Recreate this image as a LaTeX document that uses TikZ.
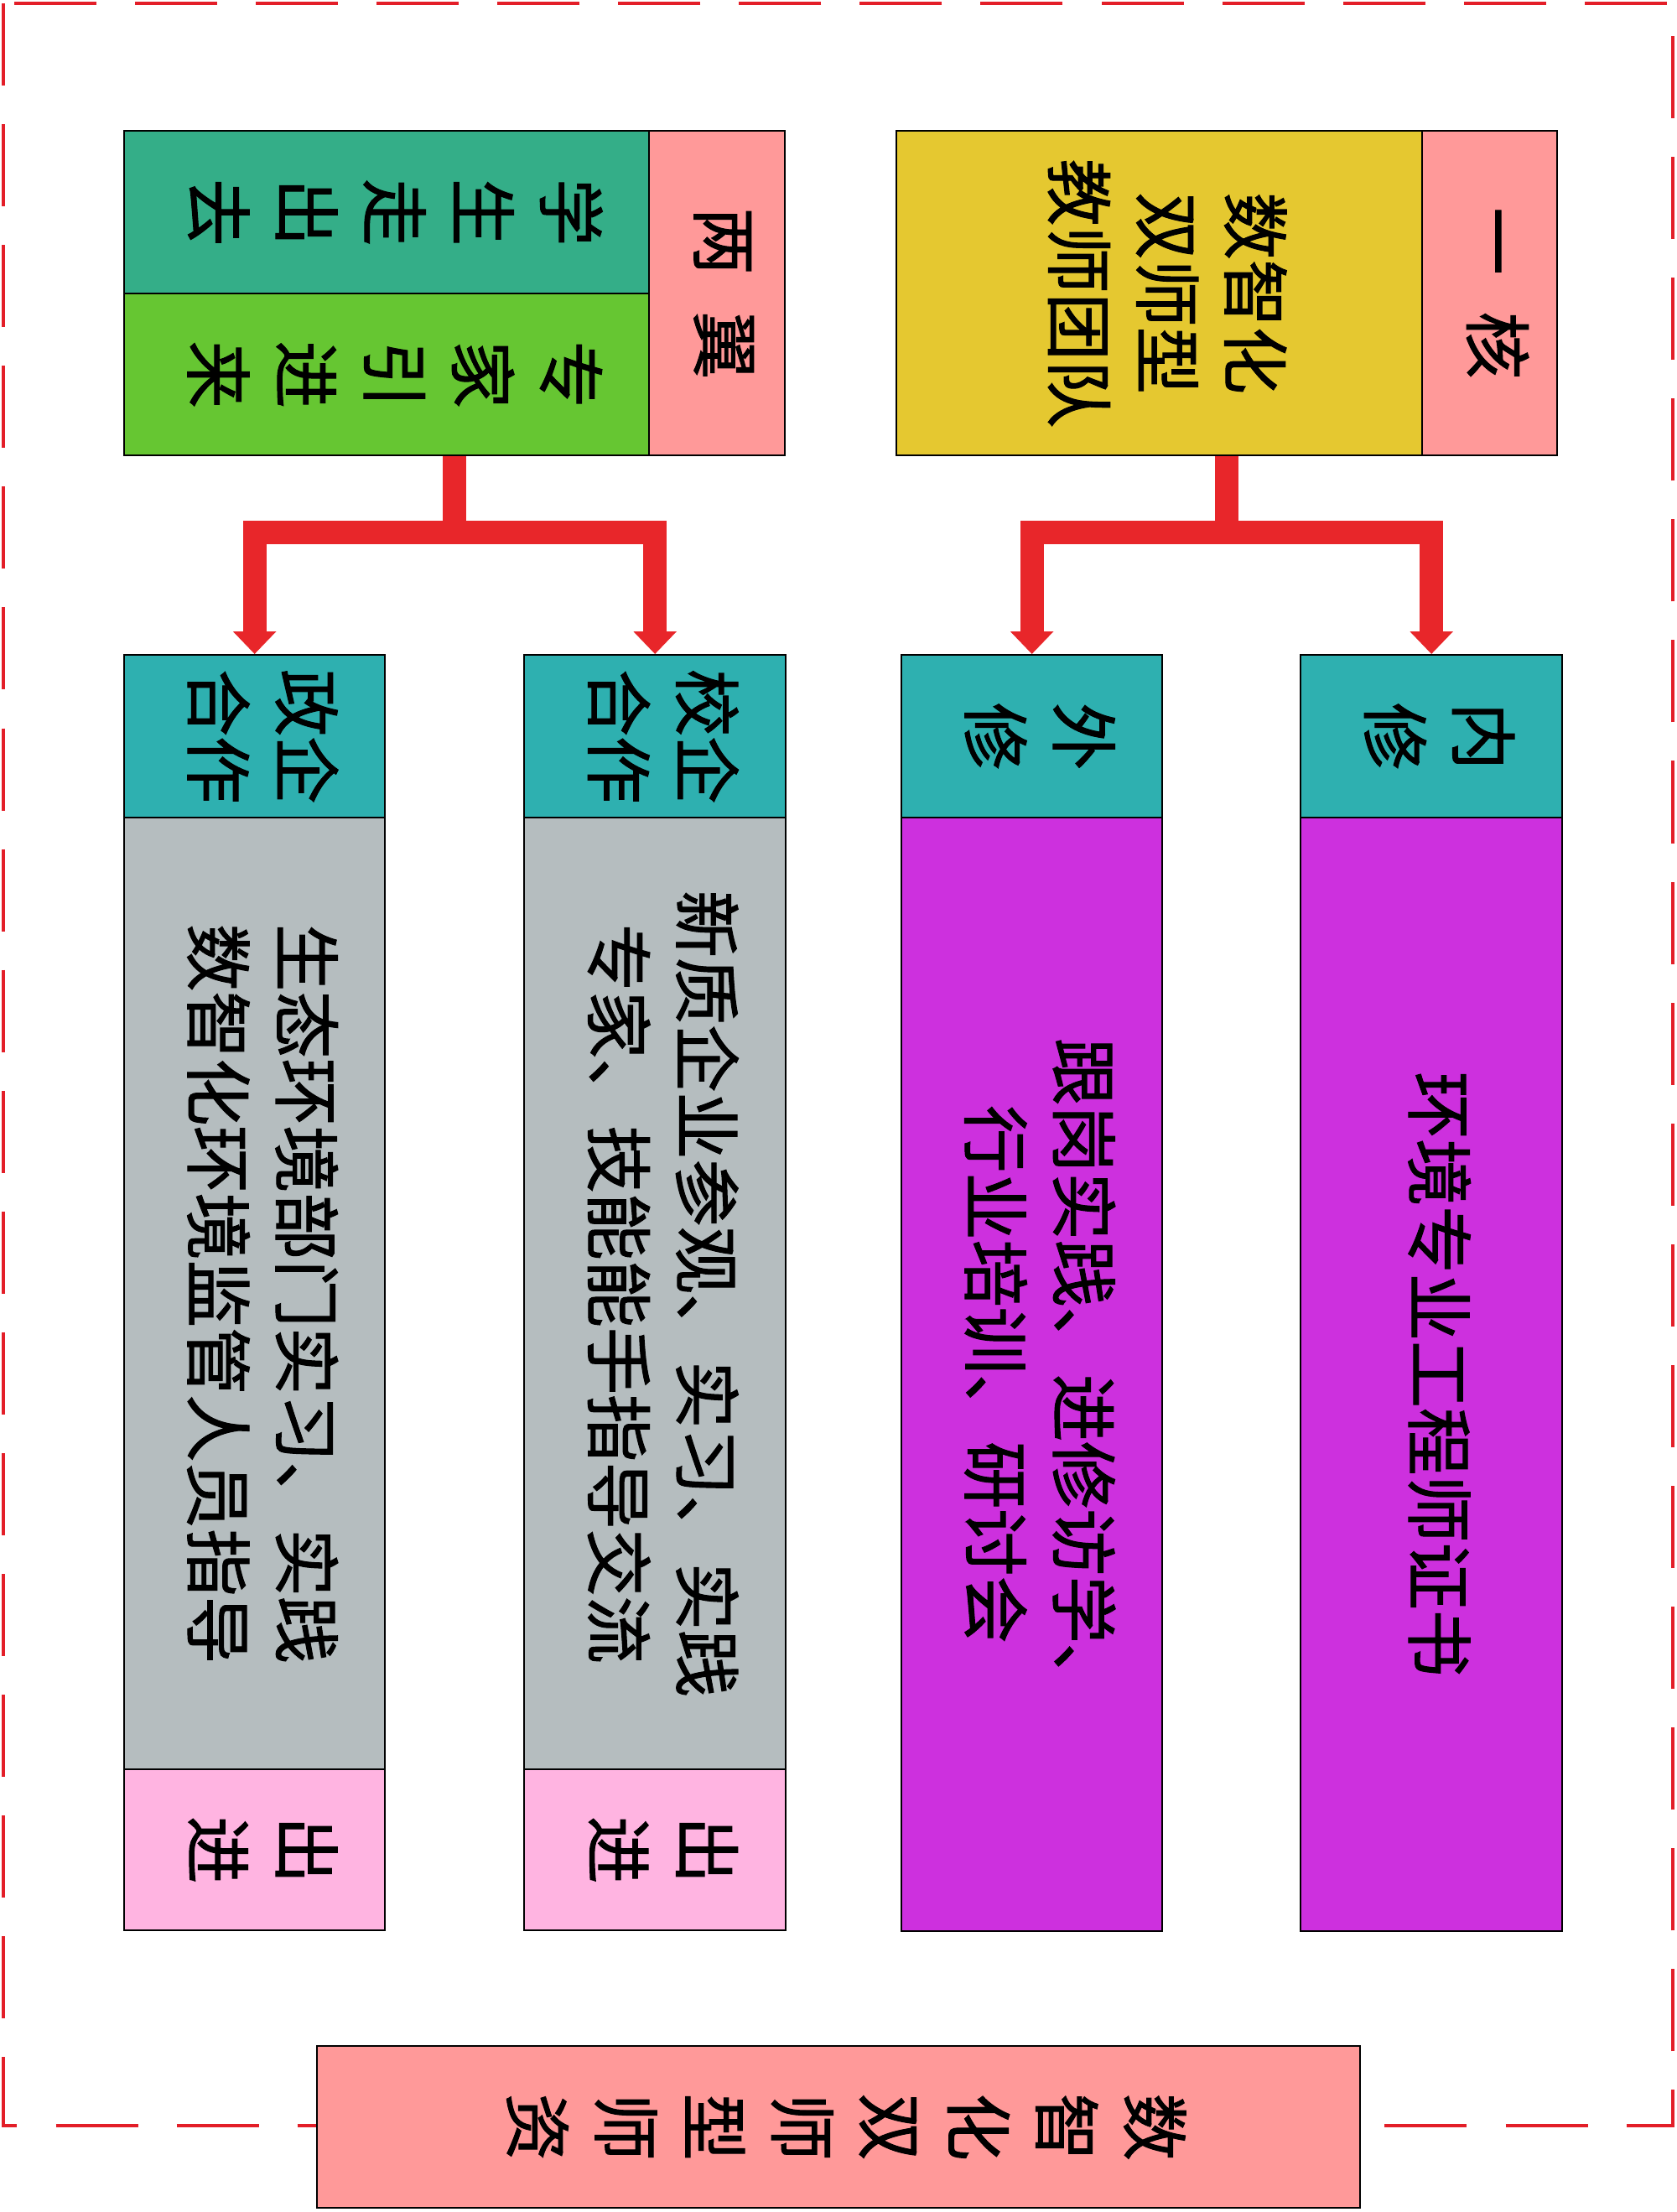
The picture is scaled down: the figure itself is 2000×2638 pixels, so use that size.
\documentclass[tikz,border=0pt]{standalone}
\usepackage{fontspec}
\usepackage{graphicx}
\newfontfamily\cjk{Noto Sans CJK SC}[FakeBold=1.3]
\usetikzlibrary{arrows.meta,calc}

\definecolor{tagpink}{RGB}{255,153,153}
\definecolor{coreyellow}{RGB}{229,200,48}
\definecolor{outteal}{RGB}{52,174,136}
\definecolor{ingreen}{RGB}{102,198,50}
\definecolor{headteal}{RGB}{46,176,176}
\definecolor{trainpurple}{RGB}{205,48,222}
\definecolor{coopgray}{RGB}{181,189,191}
\definecolor{footpink}{RGB}{255,180,225}
\definecolor{flowred}{RGB}{232,38,42}
\definecolor{framered}{RGB}{227,30,40}

\newcommand\vtext[1]{\rotatebox{-90}{\begin{tabular}{@{}c@{}}#1\end{tabular}}}

\tikzset{
  box/.style 2 args={draw=black,line width=0.6pt,anchor=north west,inner sep=0pt,
    minimum width=#1,minimum height=#2,
    font=\cjk\fontsize{22.8pt}{29.9pt}\selectfont},
  flow/.style={draw=flowred,line width=0.28cm,line join=miter,
    -{Triangle[width=0.5cm,length=0.27cm]}},
}

\begin{document}
\begin{tikzpicture}[x=0.01cm,y=-0.01cm]
  \useasboundingbox (0,0) rectangle (2000,2638);
  \draw[framered,line width=0.9pt,dash pattern=on 0.98cm off 0.46cm] (4,4) rectangle (1995,2535);

  % one core
  \node[box={6.27cm}{3.87cm},fill=coreyellow] (core) at (1068,155) {\vtext{数智化\\双师型\\教师团队}};
  \node[box={1.61cm}{3.87cm},fill=tagpink] (coretag) at (1695,155) {\vtext{一\hspace{0.55em}核}};

  % two wings
  \node[box={6.26cm}{1.94cm},fill=outteal] (wingout) at (147,155) {\vtext{学\\生\\走\\出\\去}};
  \node[box={6.26cm}{1.93cm},fill=ingreen] (wingin) at (147,349) {\vtext{专\\家\\引\\进\\来}};
  \node[box={1.62cm}{3.87cm},fill=tagpink] (wingtag) at (773,155) {\vtext{两\hspace{0.55em}翼}};

  % headers
  \node[box={3.12cm}{1.94cm},fill=headteal] (innerhd) at (1550,780) {\vtext{内\\修}};
  \node[box={3.11cm}{1.94cm},fill=headteal] (outerhd) at (1074,780) {\vtext{外\\修}};
  \node[box={3.12cm}{1.94cm},fill=headteal] (schoolhd) at (624,780) {\vtext{校企\\合作}};
  \node[box={3.11cm}{1.94cm},fill=headteal] (govhd) at (147,780) {\vtext{政企\\合作}};

  % bodies
  \node[box={3.12cm}{13.27cm},fill=trainpurple] (innerbd) at (1550,974) {\vtext{环境专业工程师证书}};
  \node[box={3.11cm}{13.27cm},fill=trainpurple] (outerbd) at (1074,974) {\vtext{跟岗实践、进修访学、\\行业培训、研讨会}};
  \node[box={3.12cm}{11.35cm},fill=coopgray] (schoolbd) at (624,974) {\vtext{新质企业参观、实习、实践\\专家、技能能手指导交流}};
  \node[box={3.11cm}{11.35cm},fill=coopgray] (govbd) at (147,974) {\vtext{生态环境部门实习、实践\\数智化环境监管人员指导}};
  \node[box={3.12cm}{1.92cm},fill=footpink] (schoolft) at (624,2109) {\vtext{出\\进}};
  \node[box={3.11cm}{1.92cm},fill=footpink] (govft) at (147,2109) {\vtext{出\\进}};

  % title
  \node[box={12.43cm}{1.93cm},fill=tagpink] (title) at (377,2439) {\vtext{数\\智\\化\\双\\师\\型\\师\\资}};

  % connectors
  \coordinate (corebase) at ($(core.south west)!0.5!(coretag.south east)$);
  \coordinate (corefork) at ($(corebase)+(0,91)$);
  \draw[flow] (corebase) -- (corefork) -| (outerhd.north);
  \draw[flow] (corebase) -- (corefork) -| (innerhd.north);
  \coordinate (wingbase) at ($(wingin.south west)!0.5!(wingtag.south east)$);
  \coordinate (wingfork) at ($(wingbase)+(0,91)$);
  \draw[flow] (wingbase) -- (wingfork) -| (govhd.north);
  \draw[flow] (wingbase) -- (wingfork) -| (schoolhd.north);
\end{tikzpicture}
\end{document}
